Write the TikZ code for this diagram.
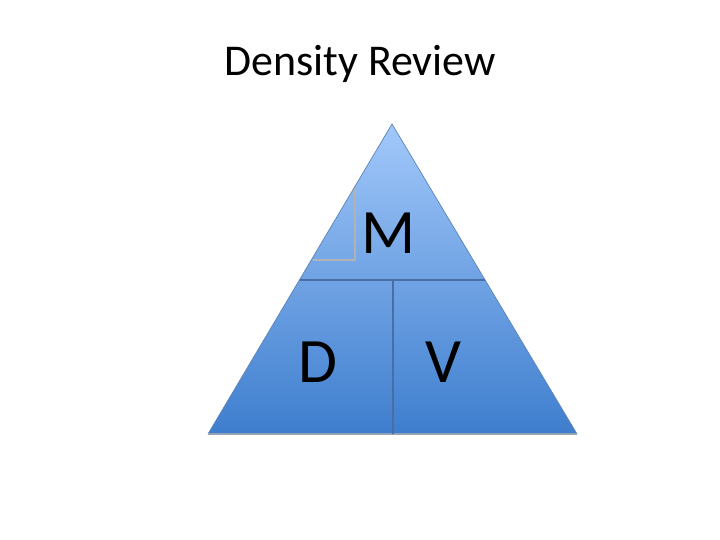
\documentclass[tikz,border=0pt]{standalone}
\usepackage{fontspec}
\setmainfont{Carlito}
\usetikzlibrary{positioning}

\definecolor{triTop}{RGB}{162,200,250}
\definecolor{triBot}{RGB}{62,126,206}
\definecolor{triEdge}{RGB}{92,130,185}
\definecolor{sepLine}{RGB}{72,110,165}
\definecolor{baseLine}{RGB}{150,162,182}

\begin{document}
\begin{tikzpicture}[x=0.02cm, y=0.02cm,
  letter/.style={anchor=base, font=\fontsize{36}{40}\selectfont},
  divider/.style={sepLine, line width=1.6pt}]
  \useasboundingbox (0,0) rectangle (720,540);

  % 标题
  \node[anchor=base, font=\fontsize{25}{28}\selectfont] (title) at (360,464) {Density Review};

  % 三角形（渐变）
  \shade[top color=triTop, bottom color=triBot] (392,416) -- (577,106) -- (208,106) -- cycle;
  \draw[triEdge, line width=0.4pt] (208,106) -- (392,416) -- (577,106);
  \draw[baseLine, line width=1pt] (208,106) -- (577,106);

  % 字母 M 后面的浅色框
  \draw[gray!60, line width=0.6pt] (355,352) -- (355,280) -- (313,280);

  % 分隔线
  \draw[divider] (300,260) -- (485,260);
  \draw[sepLine, line width=1.1pt] (393,260) -- (393,106);

  % 字母
  \node[letter] (mass) at (389,286) {M};
  \node[letter] (dens) at (318,157) {D};
  \node[letter] (vol) at (443,157) {V};
\end{tikzpicture}
\end{document}
